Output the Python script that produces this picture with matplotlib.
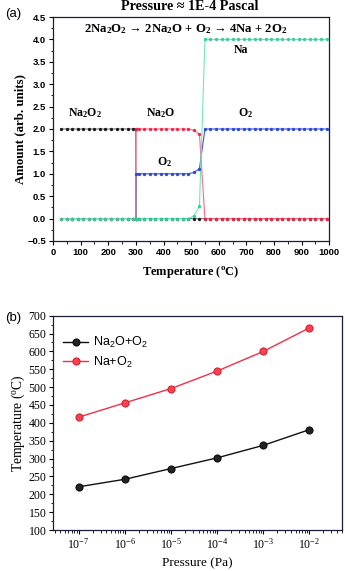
import matplotlib
matplotlib.use("Agg")
import matplotlib.pyplot as plt
from matplotlib.ticker import MultipleLocator, FixedLocator, LogLocator, LogFormatterMathtext, NullFormatter

plt.rcParams['mathtext.default'] = 'regular'

# ---------------- data: panel (a) ----------------
temps = [30, 50, 70, 90, 110, 130, 150, 170, 190, 210, 230, 250, 270, 290,
         299, 301,
         310, 330, 350, 370, 390, 410, 430, 450, 470, 490, 510, 530,
         550, 570, 590, 610, 630, 650, 670, 690, 710, 730, 750, 770, 790,
         810, 830, 850, 870, 890, 910, 930, 950, 970, 990]
na2o2 = [2]*15 + [0]*36
na2o = [0]*15 + [2]*11 + [1.97, 1.88] + [0]*23
o2 = [0]*15 + [1]*11 + [1.03, 1.11] + [2]*23
na = [0]*15 + [0]*11 + [0.06, 0.27] + [4]*23

# ---------------- data: panel (b) ----------------
pressures = [1e-7, 1e-6, 1e-5, 1e-4, 1e-3, 1e-2]
t_na2o = [221, 242, 272, 302, 337, 381]
t_na = [416, 456, 496, 545, 600, 666]

fig = plt.figure(figsize=(3.45, 5.71), dpi=100)

serif = 'Liberation Serif'
sans = 'Liberation Sans'

# ---------------- panel (a) ----------------
ax = fig.add_axes([0.1536, 0.578, 0.8009, 0.3922])
series = [(na2o2, '#1a1a1a', '#777777'),
          (o2, '#2f49d0', '#3a55e0'),
          (na2o, '#f0284a', '#f07088'),
          (na, '#2ed198', '#70e8b8')]
for vals, mc, lc in series:
    ax.plot(temps, vals, '-', color=lc, lw=0.8, zorder=2)
    ax.plot(temps, vals, 'o', color=mc, ms=2.4, mec='none', zorder=3)

ax.set_xlim(0, 1000)
ax.set_ylim(-0.5, 4.5)
ax.xaxis.set_major_locator(MultipleLocator(100))
ax.xaxis.set_minor_locator(MultipleLocator(50))
ax.yaxis.set_major_locator(MultipleLocator(0.5))
ax.yaxis.set_minor_locator(MultipleLocator(0.25))
ax.tick_params(which='both', direction='out', labelsize=6.8, pad=2)
ax.tick_params(which='major', length=3, width=0.8)
ax.tick_params(which='minor', length=1.8, width=0.6)
for lab in ax.get_xticklabels() + ax.get_yticklabels():
    lab.set_fontfamily(sans)
    lab.set_fontweight('bold')
for sp in ax.spines.values():
    sp.set_color('#1c1c3c')
    sp.set_linewidth(0.9)

ax.set_xlabel('Temperature ($^{o}$C)', fontfamily=serif, fontweight='bold', fontsize=9, labelpad=5)
ax.set_ylabel('Amount (arb. units)', fontfamily=serif, fontweight='bold', fontsize=9.3)
ax.yaxis.set_label_coords(-0.098, 0.5)
fig.text(190/345, 1-7/571, 'Pressure \u2248 1E-4 Pascal', fontfamily=serif, fontweight='bold',
         fontsize=10.2, ha='center', va='center')

tk = dict(fontfamily=serif, fontweight='bold', fontsize=8.5, ha='center', va='center')
ax.text(480, 4.22, '2Na$_2$O$_2$ \u2192 2Na$_2$O + O$_2$ \u2192 4Na + 2O$_2$',
        fontfamily=serif, fontweight='bold', fontsize=9.2, ha='center', va='center')
ax.text(115, 2.36, 'Na$_2$O$_2$', **tk)
ax.text(390, 2.36, 'Na$_2$O', **tk)
ax.text(695, 2.36, 'O$_2$', **tk)
ax.text(405, 1.26, 'O$_2$', **tk)
ax.text(680, 3.76, 'Na', **tk)

fig.text(5/345, 1-14/571, '(a)', fontfamily=sans, fontsize=9.5, ha='left', va='center')

# ---------------- panel (b) ----------------
bx = fig.add_axes([0.1545, 0.0718, 0.836, 0.3753])
bx.plot(pressures, t_na2o, '-', color='#111111', lw=1.0, marker='o', ms=5.2,
        mfc='#222222', mec='#000000', mew=0.6, label='Na$_2$O+O$_2$')
bx.plot(pressures, t_na, '-', color='#f23045', lw=1.0, marker='o', ms=5.2,
        mfc='#ff4050', mec='#c8101e', mew=0.6, label='Na+O$_2$')
bx.set_xscale('log')
bx.set_xlim(10**-7.55, 10**-1.3)
bx.set_ylim(100, 700)
bx.yaxis.set_major_locator(MultipleLocator(50))
bx.yaxis.set_minor_locator(MultipleLocator(25))
bx.xaxis.set_major_locator(FixedLocator(pressures))
bx.xaxis.set_major_formatter(LogFormatterMathtext())
bx.xaxis.set_minor_locator(LogLocator(base=10, subs=range(2, 10), numticks=20))
bx.xaxis.set_minor_formatter(NullFormatter())
bx.tick_params(which='both', direction='out', labelsize=8.5, pad=2)
bx.tick_params(which='major', length=3, width=0.8)
bx.tick_params(which='minor', length=1.8, width=0.6)
for lab in bx.get_xticklabels() + bx.get_yticklabels():
    lab.set_fontfamily(serif)
for sp in bx.spines.values():
    sp.set_color('#1c1c3c')
    sp.set_linewidth(0.9)
bx.set_xlabel('Pressure (Pa)', fontfamily=serif, fontsize=9.5, labelpad=4)
bx.set_ylabel('Temperature ($^{o}$C)', fontfamily=serif, fontsize=9.8)
bx.yaxis.set_label_coords(-0.092, 0.5)
leg = bx.legend(loc='upper left', bbox_to_anchor=(0.0, 0.955), frameon=False,
                prop={'family': sans, 'size': 9},
                handlelength=2.0, handletextpad=0.4, borderaxespad=0.4, labelspacing=0.35)

fig.text(5/345, 1-318/571, '(b)', fontfamily=sans, fontsize=9.5, ha='left', va='center')

fig.savefig('out.png', dpi=100)
